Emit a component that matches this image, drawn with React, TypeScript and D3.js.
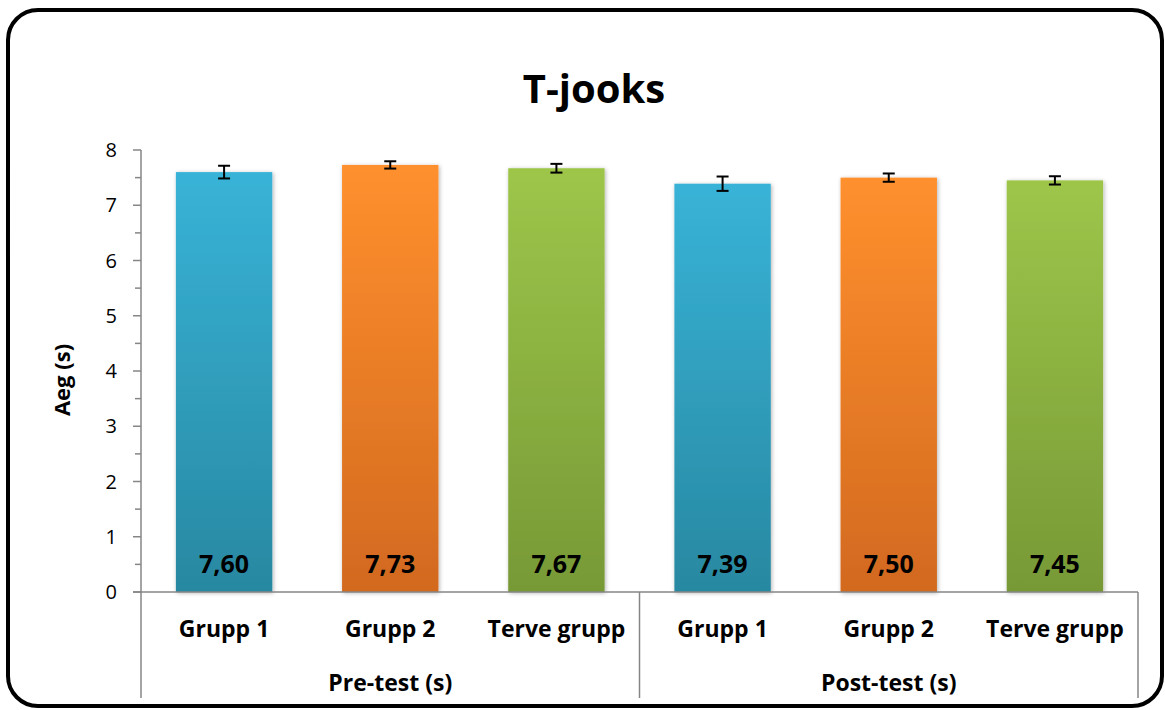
import React from "react";
import * as d3 from "d3";

const groups = ["Pre-test (s)", "Post-test (s)"];
const categories = ["Grupp 1", "Grupp 2", "Terve grupp"];
const values = [7.6, 7.73, 7.67, 7.39, 7.5, 7.45];
const errors = [0.115, 0.066, 0.079, 0.13, 0.075, 0.075];
const valueLabels = ["7,60", "7,73", "7,67", "7,39", "7,50", "7,45"];
const yTicks = [0, 1, 2, 3, 4, 5, 6, 7, 8];
const title = "T-jooks";
const yTitle = "Aeg (s)";

const palettes = [
  { top: "#38B3D7", bottom: "#2888A1" },
  { top: "#FF902E", bottom: "#D2691F" },
  { top: "#9DC64A", bottom: "#779936" },
];

const W = 1165;
const H = 710;
const left = 141;
const right = 1138;
const top = 150;
const bottom = 592;
const FONT = "'Open Sans', 'Noto Sans', sans-serif";

export default function App() {
  const keys = values.map((_, i) => String(i));
  const x = d3.scaleBand<string>().domain(keys).range([left, right]).paddingInner(0.42).paddingOuter(0.21);
  const y = d3.scaleLinear().domain([0, 8]).range([bottom, top]);
  const band = (right - left) / values.length;
  const minor = d3.range(0.5, 8, 1);
  const groupW = (right - left) / groups.length;

  return (
    <svg width={W} height={H} style={{ display: "block", position: "absolute", left: 0, top: 0 }}>
      <defs>
        {palettes.map((p, i) => (
          <linearGradient key={i} id={`g${i}`} x1="0" y1="0" x2="0" y2="1">
            <stop offset="0" stopColor={p.top} />
            <stop offset="1" stopColor={p.bottom} />
          </linearGradient>
        ))}
        <filter id="sh" x="-10%" y="-10%" width="120%" height="120%">
          <feDropShadow dx="1" dy="1" stdDeviation="2" floodColor="#000" floodOpacity="0.3" />
        </filter>
      </defs>
      <rect x={0} y={0} width={W} height={H} fill="#fff" />
      <rect x={8} y={10} width={1154} height={696} rx={30} ry={30} fill="#fff" stroke="#000" strokeWidth={4} />
      <text x={594} y={103} textAnchor="middle" fontFamily={FONT} fontWeight={700} fontSize={40}>
        {title}
      </text>
      <text
        transform={`translate(70,380) rotate(-90)`}
        textAnchor="middle"
        fontFamily={FONT}
        fontWeight={700}
        fontSize={22}
      >
        {yTitle}
      </text>
      {values.map((v, i) => {
        const bx = x(String(i))!;
        const bw = x.bandwidth();
        return (
          <rect key={i} x={bx} y={y(v)} width={bw} height={y(0) - y(v)} fill={`url(#g${i % 3})`} filter="url(#sh)" />
        );
      })}
      {/* y axis */}
      <line x1={left} x2={left} y1={top} y2={698} stroke="#868686" strokeWidth={1.5} />
      {yTicks.map((t) => (
        <g key={t}>
          <line x1={133} x2={left} y1={y(t)} y2={y(t)} stroke="#868686" strokeWidth={1.5} />
          <text x={117} y={y(t) + 7} textAnchor="end" fontFamily={FONT} fontSize={20} fill="#000">
            {t}
          </text>
        </g>
      ))}
      {minor.map((t) => (
        <line key={t} x1={135} x2={left} y1={y(t)} y2={y(t)} stroke="#868686" strokeWidth={1.5} />
      ))}
      {/* x axis */}
      <line x1={133} x2={right} y1={bottom} y2={bottom} stroke="#868686" strokeWidth={1.5} />
      {groups.map((g, gi) => (
        <line key={g} x1={left + (gi + 1) * groupW} x2={left + (gi + 1) * groupW} y1={bottom} y2={698} stroke="#868686" strokeWidth={1.5} />
      ))}
      {/* error bars */}
      {values.map((v, i) => {
        const cx = x(String(i))! + x.bandwidth() / 2;
        const y1 = y(v + errors[i]);
        const y2 = y(v - errors[i]);
        return (
          <g key={i} stroke="#000" strokeWidth={2}>
            <line x1={cx} x2={cx} y1={y1} y2={y2} />
            <line x1={cx - 6} x2={cx + 6} y1={y1} y2={y1} />
            <line x1={cx - 6} x2={cx + 6} y1={y2} y2={y2} />
          </g>
        );
      })}
      {/* value labels */}
      {values.map((v, i) => (
        <text
          key={i}
          x={x(String(i))! + x.bandwidth() / 2}
          y={573}
          textAnchor="middle"
          fontFamily={FONT}
          fontWeight={700}
          fontSize={25}
        >
          {valueLabels[i]}
        </text>
      ))}
      {/* category labels */}
      {values.map((_, i) => (
        <text
          key={i}
          x={left + band * (i + 0.5)}
          y={637}
          textAnchor="middle"
          fontFamily={FONT}
          fontWeight={700}
          fontSize={23}
        >
          {categories[i % 3]}
        </text>
      ))}
      {groups.map((g, gi) => (
        <text key={g} x={left + groupW * (gi + 0.5)} y={691} textAnchor="middle" fontFamily={FONT} fontWeight={700} fontSize={23}>
          {g}
        </text>
      ))}
    </svg>
  );
}
